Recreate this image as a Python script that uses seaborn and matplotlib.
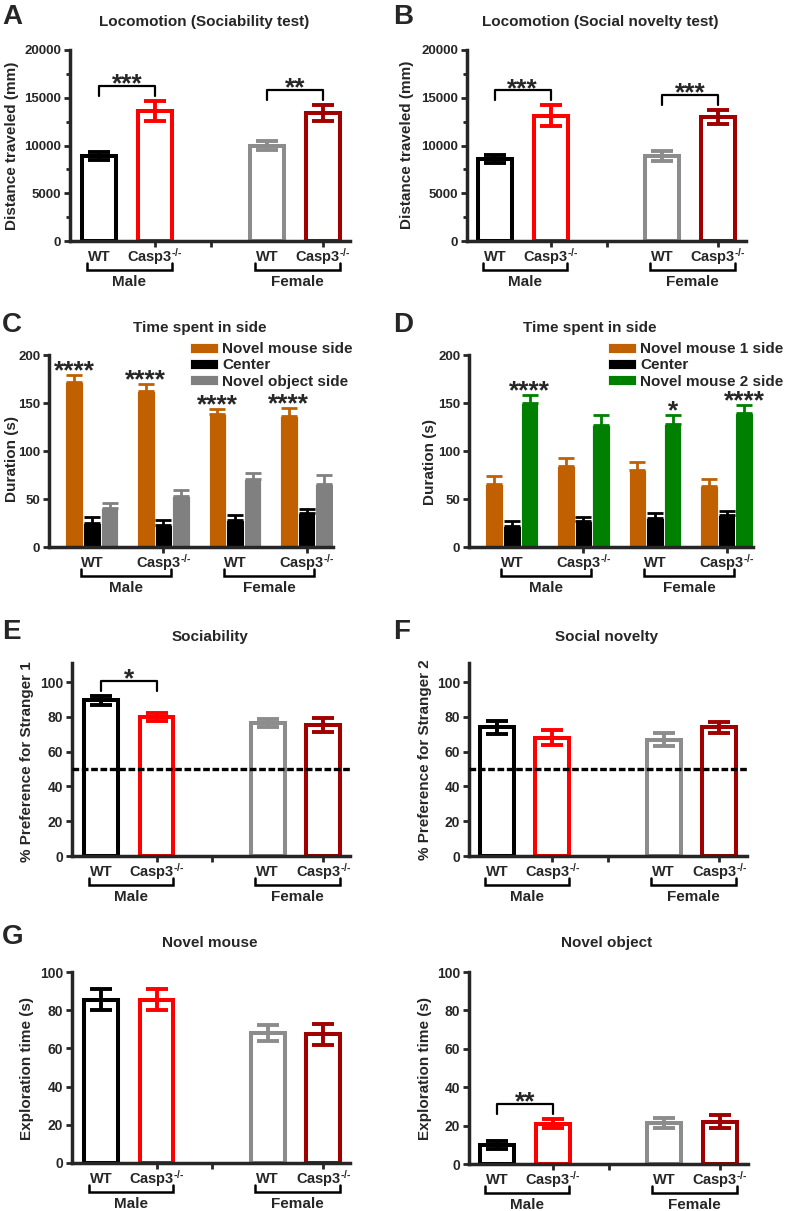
import numpy as np
import pandas as pd
import matplotlib
matplotlib.use("Agg")
import matplotlib.pyplot as plt
from matplotlib.ticker import MultipleLocator
import seaborn as sns

# --- values (mean, SEM) ---
groups = ['Male WT', 'Male Casp3', 'Female WT', 'Female Casp3']
slots = ['Male WT', 'Male Casp3', 'gap', 'Female WT', 'Female Casp3']
geno_labels = ['WT', r'Casp3$^{\text{-/-}}$', 'WT', r'Casp3$^{\text{-/-}}$']
sexes = ['Male', 'Female']

# A: locomotion, sociability test
loco_soc_mean = [8900, 13650, 10000, 13400]
loco_soc_sem = [400, 1050, 450, 850]
# B: locomotion, social novelty test
loco_nov_mean = [8600, 13100, 8900, 13000]
loco_nov_sem = [450, 1100, 500, 750]

# C: time spent in side (sociability)
soc_zones = ['Novel mouse side', 'Center', 'Novel object side']
soc_mouse_mean = [172, 162, 139, 136]
soc_mouse_sem = [7, 8, 5, 9]
soc_center_mean = [25, 23, 28, 35]
soc_center_sem = [6, 5, 5, 5]
soc_object_mean = [41, 53, 71, 66]
soc_object_sem = [5, 6, 6, 9]

# D: time spent in side (social novelty)
nov_zones = ['Novel mouse 1 side', 'Center', 'Novel mouse 2 side']
nov_mouse1_mean = [66, 84, 80, 64]
nov_mouse1_sem = [8, 9, 9, 7]
nov_center_mean = [22, 27, 30, 33]
nov_center_sem = [5, 4.5, 5, 5]
nov_mouse2_mean = [150, 127, 128, 140]
nov_mouse2_sem = [8, 10, 10, 8]

# E / F: preference (%)
pref_s1_mean = [89.5, 80, 76.5, 75.5]
pref_s1_sem = [2.5, 2.5, 2.5, 4]
pref_s2_mean = [74, 68, 67, 74]
pref_s2_sem = [3.8, 4.3, 3.8, 3.3]

# G: exploration time (s)
expl_mouse_mean = [85.5, 85.5, 68, 67.5]
expl_mouse_sem = [5.5, 5.5, 4, 5.5]
expl_object_mean = [10, 21, 21.5, 22]
expl_object_sem = [2, 2.5, 2.5, 3.5]

# significance (label, group a, group b)
sig_A = [('***', 'Male WT', 'Male Casp3'), ('**', 'Female WT', 'Female Casp3')]
sig_B = [('***', 'Male WT', 'Male Casp3'), ('***', 'Female WT', 'Female Casp3')]
sig_E = [('*', 'Male WT', 'Male Casp3')]
sig_G2 = [('**', 'Male WT', 'Male Casp3')]
stars_C = ['****', '****', '****', '****']
stars_D = ['****', '', '*', '****']

open_colors = {'Male WT': '#000000', 'Male Casp3': '#FF0000',
               'Female WT': '#8C8C8C', 'Female Casp3': '#A00000'}
soc_colors = ['#C06000', '#000000', '#808080']
nov_colors = ['#C06000', '#000000', '#008000']

sns.set_style("ticks")
plt.rcParams['font.family'] = ['Liberation Sans', 'DejaVu Sans']
plt.rcParams['font.weight'] = 'bold'
plt.rcParams['mathtext.fontset'] = 'custom'
plt.rcParams['mathtext.rm'] = 'Liberation Sans:bold'
plt.rcParams['mathtext.it'] = 'Liberation Sans:bold'
plt.rcParams['mathtext.bf'] = 'Liberation Sans:bold'

W, H = 787, 1211
fig = plt.figure(figsize=(W / 100, H / 100), dpi=100)

STAR_FS = 19
LAB_FS = 10.5


def add_ax(l, r, t, b):
    return fig.add_axes([l / W, 1 - b / H, (r - l) / W, (b - t) / H])


def ftext(x, y, s, **kw):
    fig.text(x / W, 1 - y / H, s, fontweight='bold', **kw)


def style(ax, ymax, ystep, xlim, xticks, minor=None, fs=9.5):
    ax.set_ylim(0, ymax)
    ax.yaxis.set_major_locator(MultipleLocator(ystep))
    ax.set_xlim(*xlim)
    ax.set_xticks(xticks)
    ax.set_xticklabels([])
    ax.set_xlabel('')
    ax.set_ylabel('')
    sns.despine(ax=ax)
    ax.spines['left'].set_linewidth(2.5)
    ax.spines['bottom'].set_linewidth(2.5)
    ax.tick_params(axis='y', width=2, length=4.3, labelsize=fs, pad=2)
    ax.tick_params(axis='x', width=2, length=4.3)
    if minor:
        ax.yaxis.set_minor_locator(MultipleLocator(minor))
        ax.tick_params(axis='y', which='minor', width=2, length=3)
    for lab in ax.get_yticklabels():
        lab.set_fontweight('bold')


def group_labels(ax, xs, lo, hi):
    h = ax.bbox.height
    tr = ax.get_xaxis_transform()
    for x, lab in zip(xs, geno_labels):
        ax.text(x, -16 / h, lab, transform=tr, ha='center', va='center',
                fontsize=LAB_FS, fontweight='bold', clip_on=False)
    for k, sex in enumerate(sexes):
        x0, x1 = xs[2 * k] + lo, xs[2 * k + 1] + hi
        ax.plot([x0, x0, x1, x1], [-22 / h, -29 / h, -29 / h, -22 / h], transform=tr,
                color='k', lw=1.8, clip_on=False, solid_joinstyle='miter')
        ax.text((x0 + x1) / 2, -41 / h, sex, transform=tr, ha='center', va='center',
                fontsize=11, fontweight='bold', clip_on=False)


def open_panel(ax, means, sems, sig, ymax, ystep, xlim, minor=None, fs=9.5):
    df = pd.DataFrame({'group': groups, 'value': means})
    sns.barplot(data=df, x='group', y='value', hue='group', order=slots,
                hue_order=groups, palette=open_colors, fill=False, saturation=1,
                linewidth=2.9, width=0.61, errorbar=None, legend=False, ax=ax)
    for g, m, s in zip(groups, means, sems):
        ax.errorbar(slots.index(g), m, yerr=s, fmt='none', ecolor=open_colors[g],
                    elinewidth=2.8, capsize=8, capthick=2.8, zorder=3)
    style(ax, ymax, ystep, xlim, [1, 2, 4], minor, fs)
    upp = ymax / ax.bbox.height
    for text, a, b in sig:
        ia, ib = groups.index(a), groups.index(b)
        top = max(means[ia] + sems[ia], means[ib] + sems[ib]) + 15 * upp
        x0, x1 = slots.index(a), slots.index(b)
        ax.plot([x0, x0, x1, x1], [top - 10 * upp, top, top, top - 10 * upp],
                color='k', lw=1.6, clip_on=False)
        ax.annotate(text, ((x0 + x1) / 2, top), xytext=(0, -4), textcoords='offset points',
                    ha='center', va='baseline', fontsize=STAR_FS, fontweight='bold')
    group_labels(ax, [0, 1, 3, 4], -0.22, 0.3)


def filled_panel(ax, zones, means_list, sems_list, colors, star_zone, stars):
    rows = []
    for z, ms in zip(zones, means_list):
        for g, m in zip(groups, ms):
            rows.append({'group': g, 'zone': z, 'value': m})
    df = pd.DataFrame(rows)
    sns.barplot(data=df, x='group', y='value', hue='zone', order=groups,
                hue_order=zones, palette=colors, saturation=1, width=0.74,
                errorbar=None, edgecolor='white', linewidth=0.6, ax=ax)
    bw = 0.74 / 3
    for j, (ms, ss) in enumerate(zip(means_list, sems_list)):
        xs = np.arange(4) + (j - 1) * bw
        ax.errorbar(xs, ms, yerr=[np.zeros(4), ss], fmt='none', ecolor=colors[j],
                    elinewidth=2, capsize=6, capthick=2, zorder=3)
    for i, s in enumerate(stars):
        if s:
            x = i + (star_zone - 1) * bw
            y = means_list[star_zone][i] + sems_list[star_zone][i]
            ax.annotate(s, (x, y), xytext=(0, -2.5), textcoords='offset points',
                        ha='center', va='baseline', fontsize=STAR_FS, fontweight='bold')
    style(ax, 200, 50, (-0.6, 3.37), [1, 3])
    group_labels(ax, [0, 1, 2, 3], -0.15, 0.1)


def side_legend(ax, x):
    sns.move_legend(ax, 'upper left', bbox_to_anchor=(x / W, 1 - 342 / H),
                    bbox_transform=fig.transFigure, frameon=False, title=None,
                    fontsize=11, handlelength=1.8, handleheight=0.65, handletextpad=0.3,
                    labelspacing=0.15, borderpad=0, borderaxespad=0)


# A
axA = add_ax(70, 350, 50, 241)
open_panel(axA, loco_soc_mean, loco_soc_sem, sig_A, 20000, 5000, (-0.52, 4.48), minor=2500)
ftext(2, 4, 'A', fontsize=20, va='top')
ftext(204, 22, 'Locomotion (Sociability test)', fontsize=11, ha='center', va='center')
ftext(12, 146, 'Distance traveled (mm)', fontsize=11, rotation=90, ha='center', va='center')

# B
axB = add_ax(467, 746, 50, 241)
open_panel(axB, loco_nov_mean, loco_nov_sem, sig_B, 20000, 5000, (-0.5, 4.5), minor=2500)
ftext(393, 4, 'B', fontsize=20, va='top')
ftext(600, 22, 'Locomotion (Social novelty test)', fontsize=11, ha='center', va='center')
ftext(407, 145, 'Distance traveled (mm)', fontsize=11, rotation=90, ha='center', va='center')

# C
axC = add_ax(49, 333, 355, 547)
filled_panel(axC, soc_zones, [soc_mouse_mean, soc_center_mean, soc_object_mean],
             [soc_mouse_sem, soc_center_sem, soc_object_sem], soc_colors, 0, stars_C)
side_legend(axC, 190)
ftext(2, 312, 'C', fontsize=20, va='top')
ftext(200, 328, 'Time spent in side', fontsize=11, ha='center', va='center')
ftext(12, 459, 'Duration (s)', fontsize=11, rotation=90, ha='center', va='center')

# D
axD = add_ax(469, 753, 355, 547)
filled_panel(axD, nov_zones, [nov_mouse1_mean, nov_center_mean, nov_mouse2_mean],
             [nov_mouse1_sem, nov_center_sem, nov_mouse2_sem], nov_colors, 2, stars_D)
side_legend(axD, 608)
ftext(393, 312, 'D', fontsize=20, va='top')
ftext(590, 328, 'Time spent in side', fontsize=11, ha='center', va='center')
ftext(430, 462, 'Duration (s)', fontsize=11, rotation=90, ha='center', va='center')

# E
axE = add_ax(72, 350, 663, 856)
open_panel(axE, pref_s1_mean, pref_s1_sem, sig_E, 111, 20, (-0.52, 4.48), fs=10)
axE.axhline(50, color='k', lw=2.4, ls=(0, (2, 0.8)), zorder=4)
ftext(2, 619, 'E', fontsize=20, va='top')
ftext(210, 637, 'Sociability', fontsize=11, ha='center', va='center')
ftext(27, 762, '% Preference for Stranger 1', fontsize=11, rotation=90, ha='center', va='center')

# F
axF = add_ax(469, 747, 663, 856)
open_panel(axF, pref_s2_mean, pref_s2_sem, [], 111, 20, (-0.5, 4.5), fs=10)
axF.axhline(50, color='k', lw=2.4, ls=(0, (2, 0.8)), zorder=4)
ftext(393, 619, 'F', fontsize=20, va='top')
ftext(607, 637, 'Social novelty', fontsize=11, ha='center', va='center')
ftext(425, 760, '% Preference for Stranger 2', fontsize=11, rotation=90, ha='center', va='center')

# G
axG = add_ax(72, 350, 972, 1163)
open_panel(axG, expl_mouse_mean, expl_mouse_sem, [], 100, 20, (-0.52, 4.48), fs=10)
ftext(2, 924, 'G', fontsize=20, va='top')
ftext(210, 943, 'Novel mouse', fontsize=11, ha='center', va='center')
ftext(27, 1068, 'Exploration time (s)', fontsize=11, rotation=90, ha='center', va='center')

axG2 = add_ax(469, 748, 972, 1164)
open_panel(axG2, expl_object_mean, expl_object_sem, sig_G2, 100, 20, (-0.5, 4.5), fs=10)
ftext(607, 943, 'Novel object', fontsize=11, ha='center', va='center')
ftext(425, 1069, 'Exploration time (s)', fontsize=11, rotation=90, ha='center', va='center')

fig.savefig('out.png', dpi=100)
